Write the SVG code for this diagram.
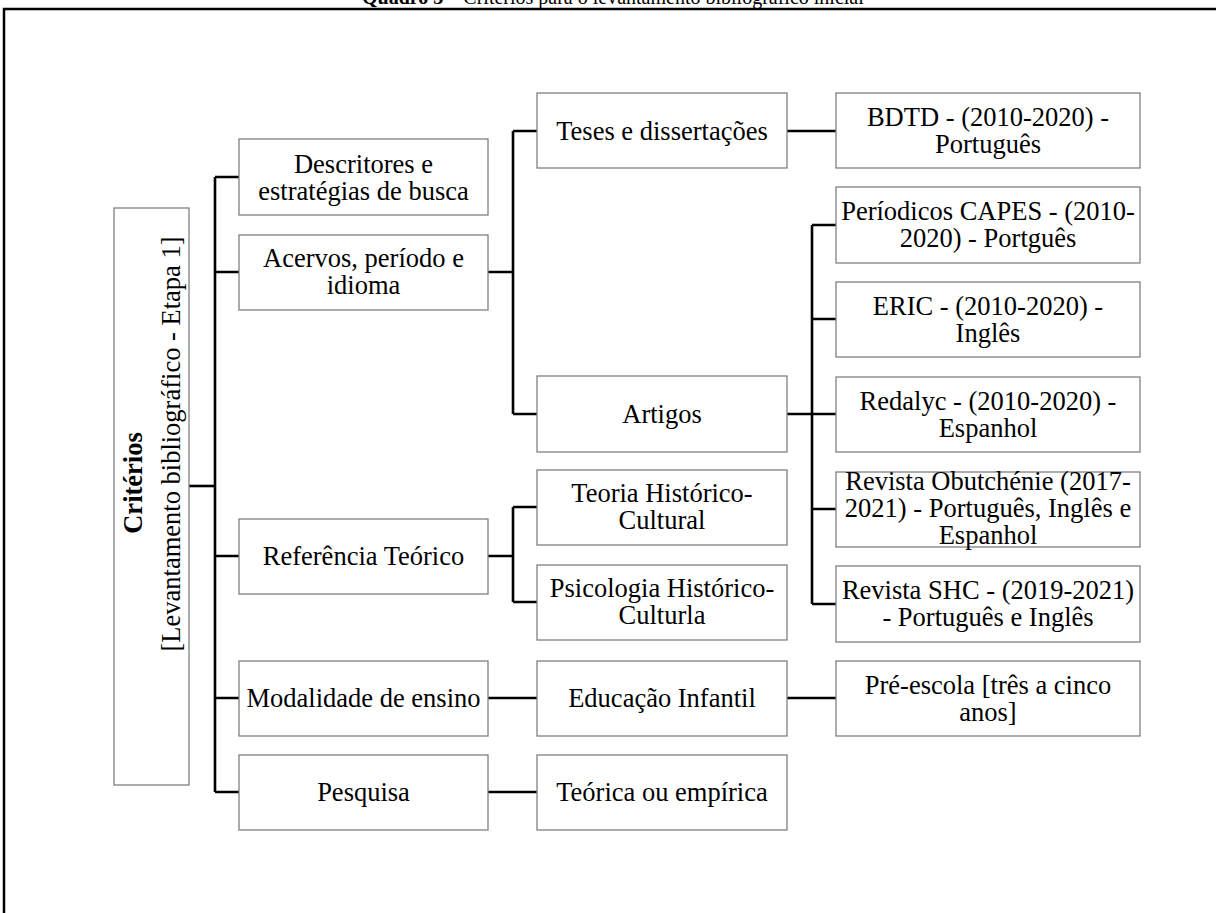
<svg xmlns="http://www.w3.org/2000/svg" width="1216" height="913" viewBox="0 0 1216 913">
  <style>
    .box { fill: #ffffff; stroke: #808080; stroke-width: 1.3; }
    .lbl { font-family: "Liberation Serif", "Times New Roman", serif; font-size: 26.5px; fill: #000; text-anchor: middle; }
    .link { fill: none; stroke: #000; stroke-width: 2.6; stroke-linejoin: miter; }
    .frame { fill: none; stroke: #000; stroke-width: 2.5; }
    .title { font-family: "Liberation Serif", "Times New Roman", serif; font-size: 20px; fill: #000; }
  </style>

  <!-- caption, partly above the page edge -->
  <text class="title" x="362" y="4"><tspan font-weight="bold">Quadro 3</tspan> – Critérios para o levantamento bibliográfico inicial</text>

  <!-- outer frame (open to the right and bottom) -->
  <path class="frame" d="M4,913 V9 H1216"/>

  <!-- connectors -->
  <g id="connectors">
    <path class="link" d="M189,486 H215"/>
    <path class="link" d="M215,177 V792"/>
    <path class="link" d="M215,177 H239 M215,272 H239 M215,556 H239 M215,698 H239 M215,792 H239"/>
    <!-- Acervos -->
    <path class="link" d="M488,272 H513 M513,131 V414 M513,131 H537 M513,414 H537"/>
    <path class="link" d="M787,131 H836"/>
    <!-- Artigos -->
    <path class="link" d="M787,414 H812 M812,225 V604 M812,225 H836 M812,319 H836 M812,414 H836 M812,509 H836 M812,604 H836"/>
    <!-- Referência -->
    <path class="link" d="M488,556 H513 M513,507 V602 M513,507 H537 M513,602 H537"/>
    <!-- Modalidade / Pesquisa -->
    <path class="link" d="M488,698 H537 M787,698 H836"/>
    <path class="link" d="M488,792 H537"/>
  </g>

  <!-- root -->
  <g id="root">
    <rect class="box" x="114" y="208" width="75" height="577"/>
    <text class="lbl" font-weight="bold" font-size="27" transform="translate(142,483) rotate(-90)">Critérios</text>
    <text class="lbl" font-size="28" transform="translate(180,444) rotate(-90)">[Levantamento bibliográfico - Etapa 1]</text>
  </g>

  <!-- level 1 -->
  <g id="descritores">
    <rect class="box" x="239" y="139" width="249" height="76"/>
    <text class="lbl" x="363.5" y="173">Descritores e<tspan x="363.5" dy="27">estratégias de busca</tspan></text>
  </g>
  <g id="acervos">
    <rect class="box" x="239" y="235" width="249" height="75"/>
    <text class="lbl" x="363.5" y="267">Acervos, período e<tspan x="363.5" dy="27">idioma</tspan></text>
  </g>
  <g id="referencia">
    <rect class="box" x="239" y="519" width="249" height="75"/>
    <text class="lbl" x="363.5" y="565">Referência Teórico</text>
  </g>
  <g id="modalidade">
    <rect class="box" x="239" y="661" width="249" height="75"/>
    <text class="lbl" x="363.5" y="707">Modalidade de ensino</text>
  </g>
  <g id="pesquisa">
    <rect class="box" x="239" y="755" width="249" height="75"/>
    <text class="lbl" x="363.5" y="801">Pesquisa</text>
  </g>

  <!-- level 2 -->
  <g id="teses">
    <rect class="box" x="537" y="93" width="250" height="75"/>
    <text class="lbl" x="662" y="140">Teses e dissertações</text>
  </g>
  <g id="artigos">
    <rect class="box" x="537" y="376" width="250" height="76"/>
    <text class="lbl" x="662" y="423">Artigos</text>
  </g>
  <g id="teoria">
    <rect class="box" x="537" y="470" width="250" height="75"/>
    <text class="lbl" x="662" y="502">Teoria Histórico-<tspan x="662" dy="27">Cultural</tspan></text>
  </g>
  <g id="psicologia">
    <rect class="box" x="537" y="565" width="250" height="75"/>
    <text class="lbl" x="662" y="597">Psicologia Histórico-<tspan x="662" dy="27">Culturla</tspan></text>
  </g>
  <g id="educacao">
    <rect class="box" x="537" y="661" width="250" height="75"/>
    <text class="lbl" x="662" y="707">Educação Infantil</text>
  </g>
  <g id="teorica">
    <rect class="box" x="537" y="755" width="250" height="75"/>
    <text class="lbl" x="662" y="801">Teórica ou empírica</text>
  </g>

  <!-- level 3 -->
  <g id="bdtd">
    <rect class="box" x="836" y="93" width="304" height="75"/>
    <text class="lbl" x="988" y="126">BDTD - (2010-2020) -<tspan x="988" dy="27">Português</tspan></text>
  </g>
  <g id="capes">
    <rect class="box" x="836" y="187" width="304" height="76"/>
    <text class="lbl" x="988" y="220">Períodicos CAPES - (2010-<tspan x="988" dy="27">2020) - Portguês</tspan></text>
  </g>
  <g id="eric">
    <rect class="box" x="836" y="282" width="304" height="75"/>
    <text class="lbl" x="988" y="315">ERIC - (2010-2020) -<tspan x="988" dy="27">Inglês</tspan></text>
  </g>
  <g id="redalyc">
    <rect class="box" x="836" y="377" width="304" height="75"/>
    <text class="lbl" x="988" y="410">Redalyc - (2010-2020) -<tspan x="988" dy="27">Espanhol</tspan></text>
  </g>
  <g id="obutchenie">
    <rect class="box" x="836" y="472" width="304" height="75"/>
    <text class="lbl" x="988" y="490">Revista Obutchénie (2017-<tspan x="988" dy="27">2021) - Português, Inglês e</tspan><tspan x="988" dy="27">Espanhol</tspan></text>
  </g>
  <g id="shc">
    <rect class="box" x="836" y="566" width="304" height="76"/>
    <text class="lbl" x="988" y="599">Revista SHC - (2019-2021)<tspan x="988" dy="27">- Português e Inglês</tspan></text>
  </g>
  <g id="preescola">
    <rect class="box" x="836" y="661" width="304" height="75"/>
    <text class="lbl" x="988" y="694">Pré-escola [três a cinco<tspan x="988" dy="27">anos]</tspan></text>
  </g>
</svg>
